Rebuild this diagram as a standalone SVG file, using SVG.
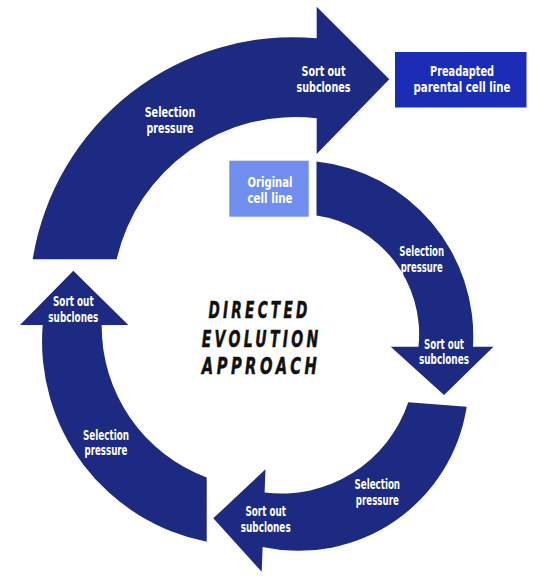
<svg xmlns="http://www.w3.org/2000/svg" width="550" height="579" viewBox="0 0 550 579">
<style>
.arr{fill:#1c2a82;}
.lbl{font-family:"DejaVu Sans Condensed","DejaVu Sans","Liberation Sans",sans-serif;font-stretch:condensed;font-weight:bold;font-size:13.2px;fill:#ffffff;text-anchor:middle;}
.big{font-size:13.7px;}
.title{font-family:"DejaVu Sans Condensed","DejaVu Sans","Liberation Sans",sans-serif;font-stretch:condensed;font-weight:900;font-style:italic;font-size:23.5px;fill:#111111;stroke:#111111;stroke-width:0.5;text-anchor:middle;letter-spacing:5px;}
</style>
<rect width="550" height="579" fill="#ffffff"/>
<g id="connectors">
<path id="arrow-top" class="arr" d="M32.7,259.3 A263.5,263.5 0 0 1 316.7,38.3 L316.7,6.7 L389.3,79.3 L316.7,154 L316.7,118.3 A183,183 0 0 0 116.7,259.3 Z"/>
<path id="arrow-right" class="arr" d="M316.5,161.5 A176,176 0 0 1 473,346.7 L493.5,346.7 L444,395 L390.7,346.7 L418.5,346.7 A120,120 0 0 0 316.5,215.5 Z"/>
<path id="arrow-bottom" class="arr" d="M408.3,402.3 L466.7,406.7 A170,170 0 0 1 262.6,547 L261.7,571.7 L213.3,518.3 L265.5,469.3 L264.6,492.5 A134,134 0 0 0 408.3,402.3 Z"/>
<path id="arrow-left" class="arr" d="M206.7,541.7 A204,204 0 0 1 42.7,325 L20,325 L73.3,270.7 L128.3,325 L101.7,325 A161,161 0 0 0 206.7,477.5 Z"/>
</g>
<g id="labels">
<text class="lbl big" x="323.5" y="76" textLength="44" lengthAdjust="spacingAndGlyphs">Sort out</text>
<text class="lbl big" x="323.5" y="92" textLength="54" lengthAdjust="spacingAndGlyphs">subclones</text>
<text class="lbl big" x="170" y="117" textLength="50.7" lengthAdjust="spacingAndGlyphs">Selection</text>
<text class="lbl big" x="170" y="133" textLength="47" lengthAdjust="spacingAndGlyphs">pressure</text>
<text class="lbl" x="421.7" y="256.4" textLength="44.7" lengthAdjust="spacingAndGlyphs">Selection</text>
<text class="lbl" x="421.7" y="271.8" textLength="42" lengthAdjust="spacingAndGlyphs">pressure</text>
<text class="lbl" x="444" y="348.8" textLength="40" lengthAdjust="spacingAndGlyphs">Sort out</text>
<text class="lbl" x="444" y="364.2" textLength="50" lengthAdjust="spacingAndGlyphs">subclones</text>
<text class="lbl" x="377.3" y="489.3" textLength="45.5" lengthAdjust="spacingAndGlyphs">Selection</text>
<text class="lbl" x="377.3" y="504.7" textLength="43" lengthAdjust="spacingAndGlyphs">pressure</text>
<text class="lbl" x="265.7" y="516" textLength="40.5" lengthAdjust="spacingAndGlyphs">Sort out</text>
<text class="lbl" x="265.7" y="531.5" textLength="50" lengthAdjust="spacingAndGlyphs">subclones</text>
<text class="lbl" x="106" y="439.5" textLength="46" lengthAdjust="spacingAndGlyphs">Selection</text>
<text class="lbl" x="106" y="454.9" textLength="43" lengthAdjust="spacingAndGlyphs">pressure</text>
<text class="lbl" x="73.3" y="306.3" textLength="40.7" lengthAdjust="spacingAndGlyphs">Sort out</text>
<text class="lbl" x="73.3" y="321.7" textLength="50" lengthAdjust="spacingAndGlyphs">subclones</text>
</g>
<g id="node-preadapted">
<rect x="395" y="52" width="131.5" height="55.5" fill="#1b2db6"/>
<text class="lbl big" x="462" y="76" textLength="64" lengthAdjust="spacingAndGlyphs">Preadapted</text>
<text class="lbl big" x="462" y="92" textLength="97" lengthAdjust="spacingAndGlyphs">parental cell line</text>
</g>
<g id="node-original">
<rect x="229.3" y="160.7" width="79.4" height="56" fill="#6f8ef0"/>
<text class="lbl big" x="270" y="186.5" textLength="45" lengthAdjust="spacingAndGlyphs">Original</text>
<text class="lbl big" x="270" y="202.5" textLength="45" lengthAdjust="spacingAndGlyphs">cell line</text>
</g>
<g id="title">
<text class="title" x="259.5" y="318.3" textLength="102" lengthAdjust="spacingAndGlyphs">DIRECTED</text>
<text class="title" x="261.7" y="346.7" textLength="120" lengthAdjust="spacingAndGlyphs">EVOLUTION</text>
<text class="title" x="261" y="374.3" textLength="118.3" lengthAdjust="spacingAndGlyphs">APPROACH</text>
</g>
</svg>
